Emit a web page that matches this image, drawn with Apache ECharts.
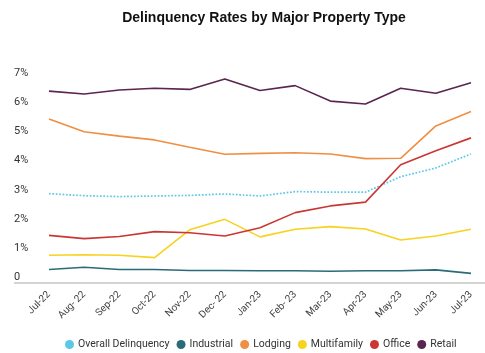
<!DOCTYPE html>
<html>
<head>
<meta charset="utf-8">
<script src="https://cdn.jsdelivr.net/npm/echarts@6/dist/echarts.min.js"></script>
<style>
  html, body { margin: 0; padding: 0; background: #fff; }
  #chart { width: 485px; height: 353px; }
</style>
</head>
<body>
<div id="chart"></div>
<script>
var months = ['Jul-22', 'Aug- 22', 'Sep-22', 'Oct-22', 'Nov-22', 'Dec- 22', 'Jan-23', 'Feb- 23', 'Mar-23', 'Apr-23', 'May-23', 'Jun-23', 'Jul-23'];
var overall = [3.06, 2.99, 2.96, 2.98, 3.00, 3.05, 2.98, 3.13, 3.11, 3.11, 3.64, 3.94, 4.42];
var industrial = [0.46, 0.54, 0.46, 0.46, 0.43, 0.43, 0.42, 0.42, 0.40, 0.42, 0.42, 0.45, 0.33];
var lodging = [5.62, 5.18, 5.03, 4.90, 4.65, 4.41, 4.44, 4.46, 4.42, 4.26, 4.27, 5.38, 5.87];
var multifamily = [0.95, 0.97, 0.95, 0.87, 1.82, 2.18, 1.58, 1.84, 1.93, 1.85, 1.47, 1.61, 1.84];
var office = [1.63, 1.52, 1.59, 1.76, 1.72, 1.61, 1.89, 2.41, 2.64, 2.77, 4.05, 4.53, 4.97];
var retail = [6.57, 6.47, 6.61, 6.67, 6.63, 6.99, 6.59, 6.76, 6.23, 6.13, 6.67, 6.50, 6.86];

var names = ['Overall Delinquency', 'Industrial', 'Lodging', 'Multifamily', 'Office', 'Retail'];
var colors = ['#5bc9e6', '#2b6b78', '#ef8f43', '#f7d21e', '#cb3633', '#5b2550'];
var values = [overall, industrial, lodging, multifamily, office, retail];

var font = 'Roboto, sans-serif';

var series = names.map(function (name, i) {
  return {
    name: name,
    type: 'line',
    data: values[i],
    symbol: 'none',
    z: i === 0 ? 1 : 2,
    lineStyle: {
      width: i === 0 ? 1.7 : 1.6,
      type: i === 0 ? 'dotted' : 'solid',
      color: colors[i]
    },
    itemStyle: { color: colors[i] }
  };
});

var chart = echarts.init(document.getElementById('chart'));
chart.setOption({
  animation: false,
  title: {
    text: 'Delinquency Rates by Major Property Type',
    left: 259,
    textAlign: 'center',
    top: 6,
    textStyle: { fontFamily: '"Liberation Sans", Arial, sans-serif', fontSize: 14, fontWeight: 'bold', color: '#111' }
  },
  legend: {
    data: names,
    top: 334,
    left: 60,
    icon: 'circle',
    itemWidth: 9,
    itemHeight: 9,
    itemGap: 7,
    textStyle: { fontFamily: font, fontSize: 10.5, color: '#333', padding: [0, 0, 0, -1] }
  },
  grid: { left: 49, right: 14, top: 78.6, bottom: 70 },
  xAxis: {
    type: 'category',
    data: months,
    boundaryGap: false,
    axisLine: { lineStyle: { color: '#d4d4d4', width: 2 } },
    axisTick: { show: false },
    axisLabel: { rotate: 45, margin: 10, fontFamily: font, fontSize: 10, color: '#444', interval: 0 }
  },
  yAxis: {
    type: 'value',
    min: 0,
    max: 7,
    interval: 1,
    splitLine: { show: false },
    axisLine: { show: false },
    axisTick: { show: false },
    axisLabel: {
      align: 'left',
      verticalAlign: 'bottom',
      margin: 35,
      fontFamily: font,
      fontSize: 11,
      color: '#333',
      formatter: function (v) { return v === 0 ? '0' : v + '%'; }
    }
  },
  graphic: [{
    type: 'rect',
    shape: { x: 14, y: 282, width: 471, height: 2 },
    style: { fill: '#d4d4d4' },
    z: 0
  }],
  series: series
});
</script>
</body>
</html>
